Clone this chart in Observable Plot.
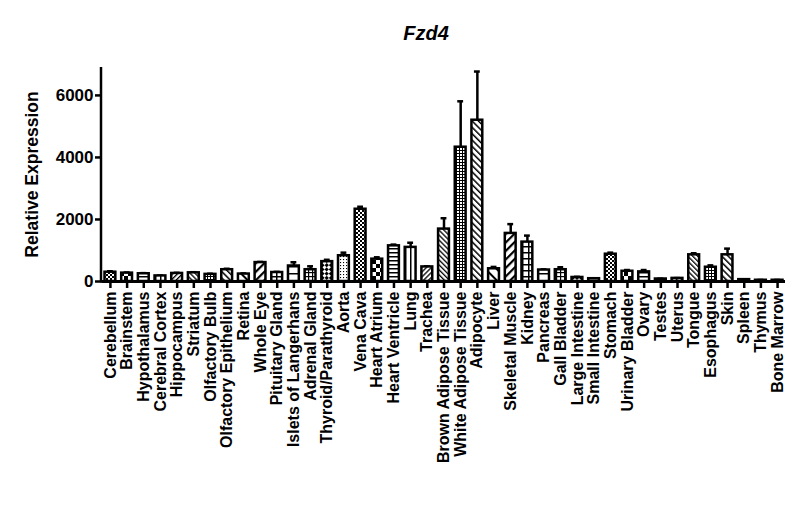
<!DOCTYPE html>
<html><head><meta charset="utf-8">
<script src="https://cdn.jsdelivr.net/npm/d3@7"></script>
<script src="https://cdn.jsdelivr.net/npm/@observablehq/plot@0.6"></script>
<style>
body{margin:0;background:#fff}
#chart svg text{font-weight:bold}
</style></head><body><div id="chart"></div>
<script>
const tissues = ["Cerebellum","Brainstem","Hypothalamus","Cerebral Cortex","Hippocampus","Striatum","Olfactory Bulb","Olfactory Epithelium","Retina","Whole Eye","Pituitary Gland","Islets of Langerhans","Adrenal Gland","Thyroid/Parathyroid","Aorta","Vena Cava","Heart Atrium","Heart Ventricle","Lung","Trachea","Brown Adipose Tissue","White Adipose Tissue","Adipocyte","Liver","Skeletal Muscle","Kidney","Pancreas","Gall Bladder","Large Intestine","Small Intestine","Stomach","Urinary Bladder","Ovary","Testes","Uterus","Tongue","Esophagus","Skin","Spleen","Thymus","Bone Marrow"];
const expression = [300,270,250,180,260,280,230,380,240,610,290,500,380,640,830,2330,720,1150,1100,470,1690,4330,5200,410,1550,1270,370,380,130,90,880,330,310,80,100,860,460,860,60,40,40];
const sem = [30,20,20,10,20,20,20,30,20,20,20,120,110,60,100,80,60,40,150,20,350,1480,1570,60,300,210,20,80,20,10,50,40,60,10,10,50,60,200,10,10,10];
const yTicks = [0,2000,4000,6000];
const title = "Fzd4";
const yLabel = "Relative Expression";

// 15 hatch patterns, cycled through the tissues (GraphPad style)
const patternSpecs = [
  {size:4, rot:0, rects:[[0,0,2,2],[2,2,2,2]]},
  {size:8, rot:0, rects:[[0,0,4,4],[4,4,4,4]]},
  {size:4, rot:0, rects:[[0,0,4,1.5]]},
  {size:5, rot:0, rects:[[0,0,1.5,5]]},
  {size:3.5, rot:45, rects:[[0,0,1.3,3.5]]},
  {size:3.5, rot:-45, rects:[[0,0,1.3,3.5]]},
  {size:3, rot:0, rects:[[0,0,3,1],[0,0,1,3]]},
  {size:4.5, rot:-45, rects:[[0,0,1.5,4.5]]},
  {size:8, rot:-45, rects:[[0,0,2,8]]},
  {size:6, rot:45, rects:[[0,0,2.2,6]]},
  {size:6, rot:0, rects:[[0,0,6,1.5],[0,0,1.5,6]]},
  {size:7, rot:0, rects:[[0,0,7,1.5]]},
  {size:4, rot:0, rects:[[0,0,4,1.2],[0,0,1.2,4]]},
  {size:6, rot:45, rects:[[0,0,3,3],[3,3,3,3]]},
  {size:3, rot:0, rects:[[1,1,1.1,1.1]]}
];

const data = tissues.map((t, i) => ({
  tissue: t, value: expression[i], err: sem[i],
  pattern: `url(#pat${i % patternSpecs.length})`
}));

const yAxisLine = (index, scales, values, dims) => {
  const l = document.createElementNS("http://www.w3.org/2000/svg", "line");
  const x = dims.marginLeft - 1;
  l.setAttribute("x1", x); l.setAttribute("x2", x);
  l.setAttribute("y1", dims.marginTop);
  l.setAttribute("y2", dims.height - dims.marginBottom + 1.5);
  l.setAttribute("stroke", "black"); l.setAttribute("stroke-width", 2.5);
  return l;
};

const plot = Plot.plot({
  width: 800, height: 515,
  marginLeft: 102, marginRight: 15, marginTop: 67, marginBottom: 234,
  style: {fontFamily: "'Liberation Sans', Arial, sans-serif", fontSize: "16px", color: "black", background: "white"},
  x: {domain: tissues, paddingInner: 0.35, paddingOuter: 0.15, round: false, label: null},
  y: {domain: [0, 6900], label: null},
  color: {type: "identity"},
  marks: [
    Plot.ruleX(data, {x: "tissue", y1: "value", y2: d => d.value + d.err, stroke: "black", strokeWidth: 2.5}),
    Plot.tickY(data, {x: "tissue", y: d => d.value + d.err, stroke: "black", strokeWidth: 2.5, insetLeft: 2.5, insetRight: 2.5}),
    Plot.barY(data, {x: "tissue", y: "value", fill: "pattern", stroke: "black", strokeWidth: 2.5}),
    Plot.ruleY([0], {stroke: "black", strokeWidth: 3}),
    yAxisLine,
    Plot.axisX({tickRotate: -90, tickSize: 7, tickPadding: 3, stroke: "black", strokeWidth: 2.5, fontSize: 16, label: null}),
    Plot.axisY({ticks: yTicks, tickSize: 7, tickPadding: 2, stroke: "black", strokeWidth: 2.5, tickFormat: d => String(d), fontSize: 17, label: null}),
    Plot.text([yLabel], {text: d => d, frameAnchor: "left", textAnchor: "middle", rotate: -90, dx: -70, fontSize: 17.5, fontWeight: "bold"}),
    Plot.text([title], {text: d => d, frameAnchor: "top", dy: -42, dx: -18, fontSize: 20, fontWeight: "bold", fontStyle: "italic"})
  ]
});

const svg = d3.select(plot.tagName.toLowerCase() === "svg" ? plot : plot.querySelector("svg"));
const defs = svg.insert("defs", ":first-child");
patternSpecs.forEach((p, i) => {
  const pat = defs.append("pattern")
    .attr("id", `pat${i}`)
    .attr("patternUnits", "userSpaceOnUse")
    .attr("width", p.size).attr("height", p.size);
  if (p.rot) pat.attr("patternTransform", `rotate(${p.rot})`);
  pat.append("rect").attr("width", p.size).attr("height", p.size).attr("fill", "white");
  p.rects.forEach(r => pat.append("rect").attr("x", r[0]).attr("y", r[1]).attr("width", r[2]).attr("height", r[3]).attr("fill", "black"));
});

document.getElementById("chart").append(plot);
</script>
</body></html>
